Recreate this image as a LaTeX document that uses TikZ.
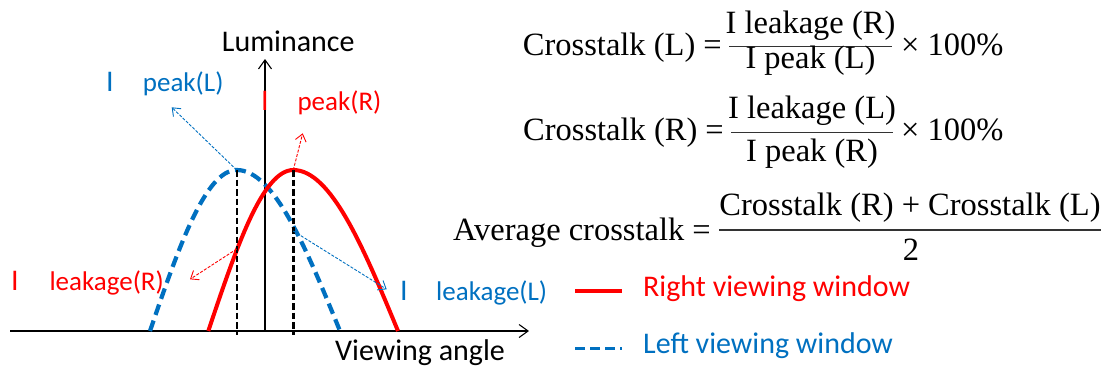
\documentclass[tikz,border=0pt]{standalone}
\usepackage{fontspec}
\setmainfont{Carlito}
\newfontfamily\eqfont{Liberation Serif}
\usetikzlibrary{arrows.meta}
\definecolor{winblue}{RGB}{0,112,192}
\definecolor{winred}{RGB}{255,0,0}
\begin{document}
\begin{tikzpicture}[x=1pt,y=-1pt,
  axisline/.style={line width=1.1pt,-{Straight Barb[length=9pt,width=13pt,line width=1.1pt]}},
  lbl/.style={inner sep=0pt,font=\fontsize{30}{35}\selectfont},
  sublbl/.style={inner sep=0pt,font=\fontsize{27}{31}\selectfont},
  eqtxt/.style={inner sep=0pt,font=\eqfont\fontsize{32.5}{36}\selectfont},
  fracbar/.style={line width=1.5pt,draw=black!80},
  rightwin/.style={draw=winred,line width=4pt},
  leftwin/.style={draw=winblue,line width=4.2pt,dash pattern=on 11pt off 6pt},
  guide/.style={draw=black,line width=2.4pt,dash pattern=on 6.5pt off 3pt},
  pointer/.style={line width=0.9pt,dash pattern=on 3pt off 1.5pt,-{Straight Barb[length=7pt,width=11pt,line width=0.9pt]}}
]
\useasboundingbox (0,0) rectangle (1109,370);
% named points
\coordinate (xs) at (10,331);
\coordinate (xe) at (529,331);
\coordinate (ys) at (265,331);
\coordinate (ye) at (265,59);
\coordinate (pL) at (236.7,170);
\coordinate (pR) at (293.3,170);
\coordinate (gL) at (236.7,335);
\coordinate (gR) at (293.3,335);
\coordinate (lkR) at (236.7,249);
\coordinate (lkL) at (293.3,231);
\coordinate (aPL) at (171.7,107.3);
\coordinate (aPR) at (302.7,133.3);
\coordinate (aLR) at (190,279.3);
\coordinate (aLL) at (386.7,289.3);
% axes
\draw[axisline] (xs) -- (xe);
\draw[axisline] (ys) -- (ye);
% curves
\draw[leftwin] (150,331) sin (pL) cos (340,331);
\draw[rightwin] (208.3,331) sin (pR) cos (398,331);
% guides
\draw[guide] (pL) -- (gL);
\draw[guide] (pR) -- (gR);
% pointers
\draw[pointer,winblue] (pL) -- (aPL);
\draw[pointer,winred] (pR) -- (aPR);
\draw[pointer,winred] (lkR) -- (aLR);
\draw[pointer,winblue] (lkL) -- (aLL);
% axis labels
\node[lbl,anchor=base west] (lum) at (221.7,51.7) {Luminance};
\node[lbl,anchor=base west] (va) at (335,360) {Viewing angle};
% curve labels
\node[lbl,anchor=base,text=winblue] (iPL) at (110,91.7) {I};
\node[sublbl,anchor=base west,text=winblue] (tPL) at (142.7,91.7) {peak(L)};
\node[lbl,anchor=base,text=winred] (iPR) at (265,110.7) {I};
\node[sublbl,anchor=base west,text=winred] (tPR) at (297.3,110.7) {peak(R)};
\node[lbl,anchor=base,text=winred] (iLR) at (15,290) {I};
\node[sublbl,anchor=base west,text=winred] (tLR) at (49.3,290) {leakage(R)};
\node[lbl,anchor=base,text=winblue] (iLL) at (404,300) {I};
\node[sublbl,anchor=base west,text=winblue] (tLL) at (436,300) {leakage(L)};
% legend
\coordinate (lr1) at (575,291);
\coordinate (lr2) at (622,291);
\coordinate (lb1) at (575,348.3);
\coordinate (lb2) at (622,348.3);
\draw[rightwin,line width=3.5pt] (lr1) -- (lr2);
\draw[leftwin,line width=3.5pt,dash pattern=on 10pt off 5pt] (lb1) -- (lb2);
\node[lbl,anchor=base west,text=winred] (legR) at (643,296.5) {Right viewing window};
\node[lbl,anchor=base west,text=winblue] (legL) at (643,353) {Left viewing window};
% equation 1
\node[eqtxt,anchor=base east] (e1l) at (722,55) {Crosstalk (L) =};
\coordinate (b1a) at (729,46.7);
\coordinate (b1b) at (892,46.7);
\draw[fracbar] (b1a) -- (b1b);
\node[eqtxt,anchor=base] (e1n) at (810.5,33) {I leakage (R)};
\node[eqtxt,anchor=base] (e1d) at (810.5,68) {I peak (L)};
\node[eqtxt,anchor=base west] (e1r) at (901,55) {\texttimes{} 100\%};
% equation 2
\node[eqtxt,anchor=base east] (e2l) at (724,140) {Crosstalk (R) =};
\coordinate (b2a) at (731,132.7);
\coordinate (b2b) at (893,132.7);
\draw[fracbar] (b2a) -- (b2b);
\node[eqtxt,anchor=base] (e2n) at (812,118) {I leakage (L)};
\node[eqtxt,anchor=base] (e2d) at (812,161) {I peak (R)};
\node[eqtxt,anchor=base west] (e2r) at (901,140) {\texttimes{} 100\%};
% equation 3
\node[eqtxt,anchor=base east] (e3l) at (711,240) {Average crosstalk =};
\coordinate (b3a) at (719,230);
\coordinate (b3b) at (1101,230);
\draw[fracbar] (b3a) -- (b3b);
\node[eqtxt,anchor=base] (e3n) at (910,215) {Crosstalk (R) + Crosstalk (L)};
\node[eqtxt,anchor=base] (e3d) at (911,260) {2};
\end{tikzpicture}
\end{document}
